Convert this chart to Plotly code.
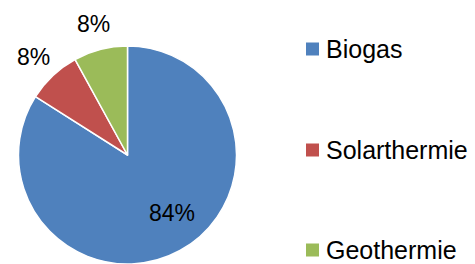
import math
import plotly.graph_objects as go

categories = ["Biogas", "Solarthermie", "Geothermie"]
values = [84, 8, 8]
colors = ["#4F81BD", "#C0504D", "#9BBB59"]

W, H = 475, 264
FONT = "Liberation Sans"

# pie geometry (pixels)
CX, CY, R = 127.5, 155.0, 109.0
label_dist = [71.5, 137.0, 137.0]    # distance of each percent label from centre
label_shift = [-10.0, 0.0, 0.0]      # angular nudge of the label (deg)
TEXT_DY = 2.0                        # baseline compensation for text box

fig = go.Figure()
fig.add_trace(go.Pie(
    labels=categories,
    values=values,
    sort=False,
    direction="clockwise",
    rotation=0,
    marker=dict(colors=colors, line=dict(color="white", width=1.5)),
    textinfo="none",
    domain=dict(x=[(CX - R) / W, (CX + R) / W], y=[(H - CY - R) / H, (H - CY + R) / H]),
    showlegend=False,
    hoverinfo="label+percent",
))

annotations = []
shapes = []

# percent labels, placed from the slice angles
total = sum(values)
cum = 0
for v, d, sh in zip(values, label_dist, label_shift):
    mid = (cum + v / 2) / total * 360 + sh
    cum += v
    px = CX + d * math.sin(math.radians(mid))
    py = CY - d * math.cos(math.radians(mid)) + TEXT_DY
    annotations.append(dict(text=f"{round(v / total * 100)}%", xref="paper", yref="paper",
                            x=px / W, y=1 - py / H, xanchor="center", yanchor="middle",
                            showarrow=False,
                            font=dict(family=FONT, size=23, color="black")))

# legend drawn manually
legend_y = [49, 150, 250]
for cat, col, yc in zip(categories, colors, legend_y):
    shapes.append(dict(type="rect", xref="paper", yref="paper",
                       x0=306 / W, x1=319 / W, y0=1 - (yc + 6.5) / H, y1=1 - (yc - 6.5) / H,
                       fillcolor=col, line=dict(width=0)))
    annotations.append(dict(text=cat, xref="paper", yref="paper", x=324 / W, y=1 - yc / H,
                            xanchor="left", yanchor="middle", showarrow=False,
                            font=dict(family=FONT, size=25, color="black")))

fig.update_layout(
    width=W, height=H,
    margin=dict(l=0, r=0, t=0, b=0),
    paper_bgcolor="white", plot_bgcolor="white",
    shapes=shapes, annotations=annotations,
)

fig.write_html("out.html", config={"displayModeBar": False},
               post_script="document.body.style.margin='0';")
